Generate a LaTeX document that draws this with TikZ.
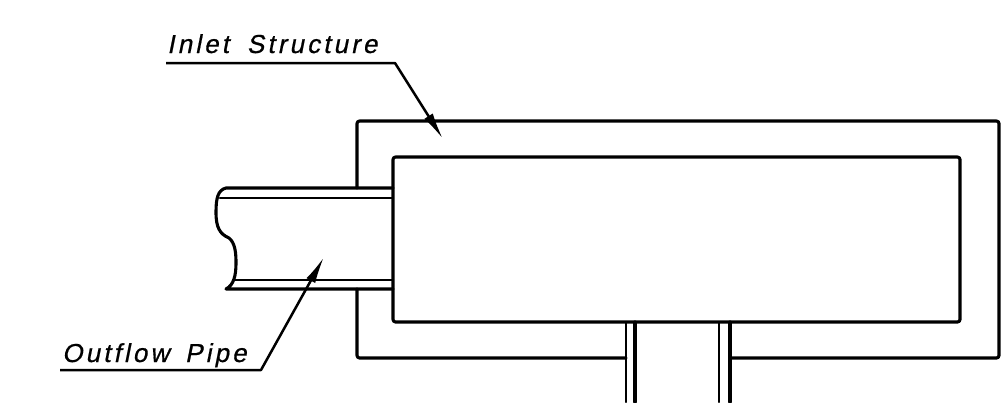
\documentclass[tikz,border=0pt]{standalone}
\usepackage{fontspec}
\setmainfont{Liberation Sans}
\newfontfamily\labelfont[LetterSpace=12,FakeSlant=0.2,FakeBold=0.6]{Liberation Sans}
\usetikzlibrary{arrows.meta}
\tikzset{
  x=1pt,y=-1pt,
  wall/.style={line width=3.1pt,line join=round,line cap=round},
  thinwall/.style={line width=2.4pt,line join=round,line cap=round},
  leader/.style={line width=2.5pt,line join=round},
  leaderarrow/.style={leader,-{Latex[length=27pt,width=10pt]}},
  lbl/.style={font=\labelfont\fontsize{26}{26}\selectfont,inner sep=0pt,anchor=base west,text=black}
}
\begin{document}
\begin{tikzpicture}
\useasboundingbox (0,0) rectangle (1002,402);
% outer wall
\draw[wall,rounded corners=2.5pt] (357,188) -- (357,121) -- (999,121) -- (999,358) -- (730,358);
\draw[wall,rounded corners=2.5pt] (626,358) -- (357,358) -- (357,289);
% inner chamber
\draw[wall,rounded corners=2.5pt] (393,157) -- (960,157) -- (960,322) -- (393,322) -- cycle;
% outflow pipe
\draw[wall] (393,188) -- (226,188)
  .. controls (218,190) and (216,198) .. (216,212)
  .. controls (216,228) and (220,234) .. (229,238)
  .. controls (235,243) and (236,252) .. (236,263)
  .. controls (236,275) and (234,285) .. (226,289)
  -- (393,289);
\draw[thinwall] (220,198) -- (393,198);
\draw[thinwall] (234,280) -- (393,280);
% bottom pipe
\draw[thinwall] (626,322) -- (626,402);
\draw[wall] (635,322) -- (635,402);
\draw[thinwall] (719,322) -- (719,402);
\draw[wall] (730,322) -- (730,402);
% labels and leaders
\node[lbl] (inlet) at (167,53) {Inlet\hspace{18pt}Structure};
\node[lbl] (outflow) at (62,362) {Outflow\hspace{16pt}Pipe};
\coordinate (inletstart) at (166,63);
\coordinate (inletbend) at (395,63);
\coordinate (inlettip) at (443,139);
\coordinate (outflowstart) at (60,370);
\coordinate (outflowbend) at (261,370);
\coordinate (outflowtip) at (324,257);
\draw[leaderarrow] (inletstart) -- (inletbend) -- (inlettip);
\draw[leaderarrow] (outflowstart) -- (outflowbend) -- (outflowtip);
\end{tikzpicture}
\end{document}
